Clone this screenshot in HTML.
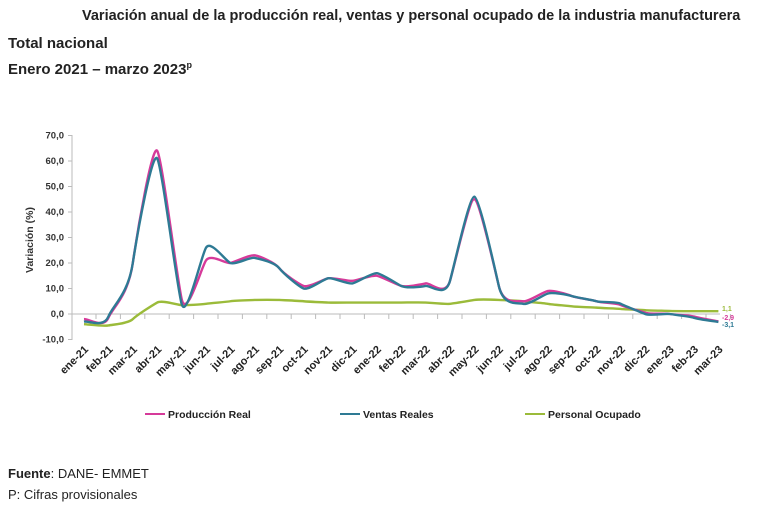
<!DOCTYPE html><html><head><meta charset="utf-8"><style>
body{margin:0;width:768px;height:512px;background:#fff;font-family:"Liberation Sans",sans-serif;overflow:hidden;position:relative}
.t{position:absolute;font-weight:bold;color:#222;font-size:14px}
</style></head><body>
<div class="t" style="left:82px;top:8px;font-size:14.5px">Variación anual de la producción real, ventas y personal ocupado de la industria manufacturera</div>
<div class="t" style="left:8px;top:35px;font-size:15px">Total nacional</div>
<div class="t" style="left:8px;top:60px;font-size:15px">Enero 2021 – marzo 2023<sup style="font-size:9px">p</sup></div>
<div style="position:absolute;left:8px;top:466px;font-size:13px;color:#222"><b>Fuente</b>: DANE- EMMET</div>
<div style="position:absolute;left:8px;top:487px;font-size:13px;color:#222">P: Cifras provisionales</div>
<svg id="s" width="768" height="512" style="position:absolute;left:0;top:0" font-family="Liberation Sans" font-weight="bold" font-size="9.5"></svg>
<script>
const P=[-2,-1.5,20,64,6,21,20,23,18,11,14,13,15,11,12,13,45,11,5,9,7,5,3.5,0.5,0,-1,-2.9];
const V=[-3,-1,20,61,4,26,20,22,18,10,14,12,16,11,11,13,46,11,4,8,7,5,4,0,0,-1.5,-3.1];
const O=[-4,-4.5,-2,4.5,3.5,4,5,5.5,5.5,5,4.5,4.5,4.5,4.5,4.5,4,5.5,5.5,5,4,3,2.5,2,1.5,1.2,1.1,1.1];
const M=["ene-21","feb-21","mar-21","abr-21","may-21","jun-21","jul-21","ago-21","sep-21","oct-21","nov-21","dic-21","ene-22","feb-22","mar-22","abr-22","may-22","jun-22","jul-22","ago-22","sep-22","oct-22","nov-22","dic-22","ene-23","feb-23","mar-23"];
const X=i=>84+i*24.4,Y=v=>314-v*2.55;
let h='';
h+='<line x1="72" y1="135" x2="72" y2="340" stroke="#bbb"/><line x1="72" y1="314" x2="720" y2="314" stroke="#bbb"/>';
for(let v=-10;v<=70;v+=10){h+=`<line x1="68" y1="${Y(v)}" x2="72" y2="${Y(v)}" stroke="#bbb"/><text x="64" y="${Y(v)+3}" text-anchor="end" fill="#333">${v.toFixed(1).replace('.',',')}</text>`;}
for(let i=0;i<27;i++){h+=`<line x1="${X(i)+12}" y1="314" x2="${X(i)+12}" y2="319" stroke="#bbb"/>`;
h+=`<text transform="translate(${X(i)+5},${350}) rotate(-45)" text-anchor="end" fill="#222" font-size="11">${M[i]}</text>`;}
h+='<text transform="translate(33,240) rotate(-90)" text-anchor="middle" fill="#333" font-size="10.5">Variación (%)</text>';
function path(d,c){const k=24.4/5;let s=`M${X(0)},${Y(d[0])}`;for(let i=0;i<d.length-1;i++){const p0=d[Math.max(i-1,0)],p1=d[i],p2=d[i+1],p3=d[Math.min(i+2,d.length-1)];
s+=` C${X(i)+k},${Y(p1+(p2-p0)/5)} ${X(i+1)-k},${Y(p2-(p3-p1)/5)} ${X(i+1)},${Y(p2)}`;}
return `<path d="${s}" fill="none" stroke="${c}" stroke-width="2.4"/>`;}
h+=path(O,'#9bbb3a')+path(P,'#d63a9a')+path(V,'#2e7a94');
h+='<text x="722" y="311" fill="#9bbb3a" font-size="7">1,1</text><text x="722" y="320" fill="#d63a9a" font-size="7">-2,9</text><text x="722" y="327" fill="#2e7a94" font-size="7">-3,1</text>';
const L=[[145,'#d63a9a','Producción Real'],[340,'#2e7a94','Ventas Reales'],[525,'#9bbb3a','Personal Ocupado']];
for(const[x,c,t]of L){h+=`<line x1="${x}" y1="414" x2="${x+20}" y2="414" stroke="${c}" stroke-width="2"/><text x="${x+23}" y="418" fill="#222" font-size="10.5">${t}</text>`;}
document.getElementById('s').innerHTML=h;
</script></body></html>
